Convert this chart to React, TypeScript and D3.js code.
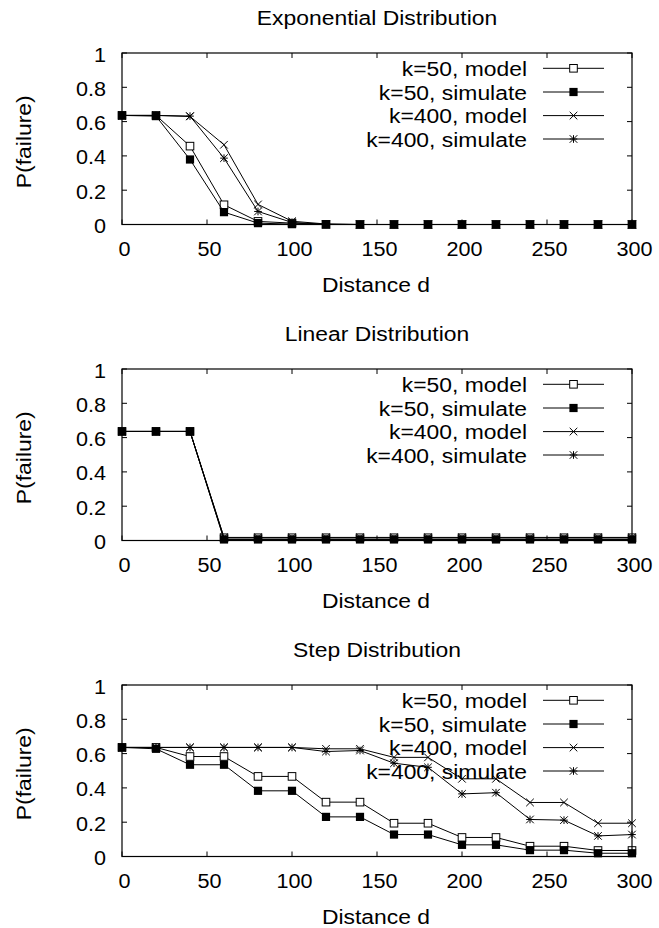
import React from "react";
import * as d3 from "d3";

const distances = [0, 20, 40, 60, 80, 100, 120, 140, 160, 180, 200, 220, 240, 260, 280, 300];

const expK50Model = [0.636, 0.636, 0.457, 0.115, 0.018, 0.008, 0.001, 0, 0, 0, 0, 0, 0, 0, 0, 0];
const expK50Sim = [0.636, 0.632, 0.379, 0.072, 0.008, 0.002, 0, 0, 0, 0, 0, 0, 0, 0, 0, 0];
const expK400Model = [0.636, 0.636, 0.63, 0.465, 0.117, 0.019, 0.003, 0, 0, 0, 0, 0, 0, 0, 0, 0];
const expK400Sim = [0.636, 0.636, 0.632, 0.387, 0.076, 0.012, 0.001, 0, 0, 0, 0, 0, 0, 0, 0, 0];

const linK50Model = [0.636, 0.636, 0.636, 0.016, 0.016, 0.016, 0.016, 0.016, 0.016, 0.016, 0.016, 0.016, 0.016, 0.016, 0.016, 0.016];
const linK50Sim = [0.636, 0.636, 0.636, 0.006, 0.006, 0.006, 0.006, 0.006, 0.006, 0.006, 0.006, 0.006, 0.006, 0.006, 0.006, 0.006];
const linK400Model = [0.636, 0.636, 0.636, 0.018, 0.018, 0.018, 0.018, 0.018, 0.018, 0.018, 0.018, 0.018, 0.018, 0.018, 0.018, 0.018];
const linK400Sim = [0.636, 0.636, 0.636, 0.008, 0.008, 0.008, 0.008, 0.008, 0.008, 0.008, 0.008, 0.008, 0.008, 0.008, 0.008, 0.008];

const stepK50Model = [0.636, 0.636, 0.583, 0.583, 0.467, 0.467, 0.317, 0.317, 0.194, 0.194, 0.111, 0.111, 0.06, 0.06, 0.035, 0.035];
const stepK50Sim = [0.636, 0.628, 0.535, 0.535, 0.383, 0.383, 0.231, 0.231, 0.128, 0.128, 0.068, 0.068, 0.037, 0.037, 0.019, 0.019];
const stepK400Model = [0.636, 0.636, 0.636, 0.636, 0.636, 0.636, 0.628, 0.628, 0.578, 0.578, 0.453, 0.453, 0.315, 0.315, 0.194, 0.194];
const stepK400Sim = [0.636, 0.636, 0.636, 0.636, 0.636, 0.636, 0.612, 0.618, 0.544, 0.52, 0.365, 0.372, 0.216, 0.212, 0.12, 0.128];

const seriesNames = ["k=50, model", "k=50, simulate", "k=400, model", "k=400, simulate"];
const markerTypes = ["openSquare", "filledSquare", "cross", "star"];
const panelTitles = ["Exponential Distribution", "Linear Distribution", "Step Distribution"];
const xTicks = [0, 50, 100, 150, 200, 250, 300];
const yTicks = [0, 0.2, 0.4, 0.6, 0.8, 1];
const yTickLabels = ["0", "0.2", "0.4", "0.6", "0.8", "1"];
const xAxisLabel = "Distance d";
const yAxisLabel = "P(failure)";

const panelSeries = [
  [expK50Model, expK50Sim, expK400Model, expK400Sim],
  [linK50Model, linK50Sim, linK400Model, linK400Sim],
  [stepK50Model, stepK50Sim, stepK400Model, stepK400Sim],
];

const W = 659;
const H = 928;
const plotLeft = 122;
const plotRight = 632;
const panelTops = [53, 369, 685];
const panelH = 171.5;
const FONT = "'Liberation Sans', Arial, Helvetica, sans-serif";
const FS = 21;
const SX_WORD = 1.09;
const SX_NUM = 1.03;

function T({
  x,
  y,
  anchor,
  sx,
  rot,
  dy,
  children,
}: {
  x: number;
  y: number;
  anchor: string;
  sx: number;
  rot?: number;
  dy?: string;
  children: React.ReactNode;
}) {
  const tr = `translate(${x},${y})${rot ? ` rotate(${rot})` : ""} scale(${sx},1)`;
  return (
    <text transform={tr} textAnchor={anchor} dy={dy} fontFamily={FONT} fontSize={FS} fill="black">
      {children}
    </text>
  );
}

function Marker({ type, x, y }: { type: string; x: number; y: number }) {
  const s = 3.8;
  if (type === "openSquare") {
    return <rect x={x - s} y={y - s} width={2 * s} height={2 * s} fill="white" stroke="black" strokeWidth={1} />;
  }
  if (type === "filledSquare") {
    return <rect x={x - s - 0.3} y={y - s - 0.3} width={2 * s + 0.6} height={2 * s + 0.6} fill="black" stroke="none" />;
  }
  if (type === "cross") {
    return (
      <path d={`M${x - s},${y - s}L${x + s},${y + s}M${x - s},${y + s}L${x + s},${y - s}`} stroke="black" strokeWidth={1} fill="none" />
    );
  }
  return (
    <path
      d={`M${x - s},${y - s}L${x + s},${y + s}M${x - s},${y + s}L${x + s},${y - s}M${x - s},${y}L${x + s},${y}M${x},${y - s}L${x},${y + s}`}
      stroke="black"
      strokeWidth={1}
      fill="none"
    />
  );
}

function Panel({ index }: { index: number }) {
  const top = panelTops[index];
  const bottom = top + panelH;
  const x = d3.scaleLinear().domain([0, 300]).range([plotLeft, plotRight]);
  const y = d3.scaleLinear().domain([0, 1]).range([bottom, top]);
  const line = d3
    .line<number>()
    .x((_, i) => x(distances[i]))
    .y((d) => y(d));
  const series = panelSeries[index];
  const tickLen = 5;
  const legendRows = [15.3, 39, 62.6, 86];
  const midY = (top + bottom) / 2;
  return (
    <g>
      <T x={377} y={top - 28} anchor="middle" sx={SX_WORD}>
        {panelTitles[index]}
      </T>
      {xTicks.map((t) => (
        <g key={"x" + t}>
          <line x1={x(t)} x2={x(t)} y1={bottom} y2={bottom - tickLen} stroke="black" />
          <line x1={x(t)} x2={x(t)} y1={top} y2={top + tickLen} stroke="black" />
          <T x={x(t) + 2.5} y={bottom + 31} anchor="middle" sx={SX_NUM}>
            {t}
          </T>
        </g>
      ))}
      {yTicks.map((t, i) => (
        <g key={"y" + t}>
          <line x1={plotLeft} x2={plotLeft + tickLen} y1={y(t)} y2={y(t)} stroke="black" />
          <line x1={plotRight} x2={plotRight - tickLen} y1={y(t)} y2={y(t)} stroke="black" />
          <T x={106} y={y(t) + 8.5} anchor="end" sx={SX_NUM}>
            {yTickLabels[i]}
          </T>
        </g>
      ))}
      <T x={376} y={bottom + 67.5} anchor="middle" sx={SX_WORD}>
        {xAxisLabel}
      </T>
      <T x={24} y={midY + 3} anchor="middle" sx={SX_WORD} rot={-90} dy="0.35em">
        {yAxisLabel}
      </T>
      {seriesNames.map((name, i) => {
        const ly = top + legendRows[i];
        return (
          <g key={name}>
            <T x={527} y={ly + 7.5} anchor="end" sx={SX_WORD}>
              {name}
            </T>
            <line x1={543} x2={604} y1={ly} y2={ly} stroke="black" strokeWidth={1} />
            <Marker type={markerTypes[i]} x={573.5} y={ly} />
          </g>
        );
      })}
      {series.map((vals, si) => (
        <g key={"s" + si}>
          <path d={line(vals) || ""} fill="none" stroke="black" strokeWidth={1} />
          {vals.map((v, i) => (
            <Marker key={i} type={markerTypes[si]} x={x(distances[i])} y={y(v)} />
          ))}
        </g>
      ))}
      <rect x={plotLeft} y={top} width={plotRight - plotLeft} height={panelH} fill="none" stroke="black" strokeWidth={1.2} />
    </g>
  );
}

export default function App() {
  return (
    <svg width={W} height={H} style={{ position: "absolute", left: 0, top: 0, background: "white" }}>
      <rect x={0} y={0} width={W} height={H} fill="white" />
      {[0, 1, 2].map((i) => (
        <Panel key={i} index={i} />
      ))}
    </svg>
  );
}
